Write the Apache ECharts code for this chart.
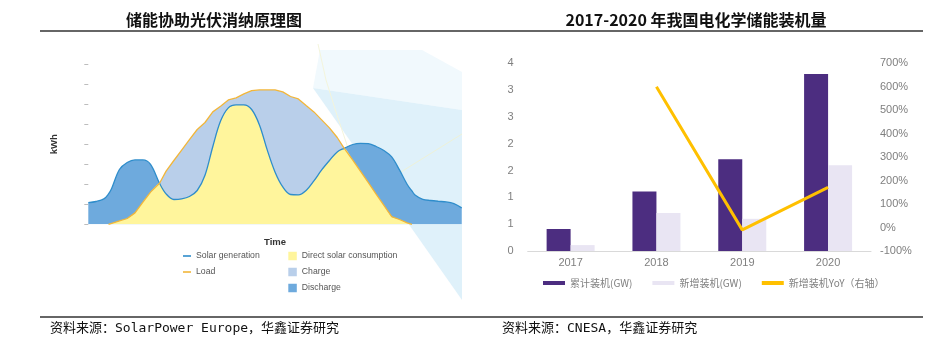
<!DOCTYPE html>
<html>
<head>
<meta charset="utf-8">
<script src="https://cdn.jsdelivr.net/npm/echarts@6/dist/echarts.min.js"></script>
<style>
html,body{margin:0;padding:0;background:#fff;}
#main{width:941px;height:343px;}
</style>
</head>
<body>
<div id="main"></div>
<script>
// ---------- Left panel: illustrative storage curves ----------
var timeGrid = [0,0.5,1,1.3,1.5,2,2.5,3,3.5,4,4.58,5,5.5,6,6.5,7,7.5,8,8.5,9,9.5,10,10.5,11,11.5,12,12.5,13,13.5,14,14.5,15,15.5,16,16.45,17,17.5,18,18.5,19,19.5,20,20.5,20.8,21,21.5,22,22.5,23,23.5,24];
var solarGen = [1.08,1.14,1.27,1.52,1.79,2.74,3.09,3.22,3.22,3.00,2.05,1.52,1.24,1.27,1.39,1.69,2.45,3.88,5.16,5.82,5.97,5.97,5.74,4.97,3.72,2.62,1.87,1.49,1.47,1.69,2.17,2.72,3.19,3.62,3.80,3.99,4.05,4.03,3.89,3.69,3.37,2.72,1.99,1.67,1.47,1.25,1.19,1.15,1.12,1.03,0.82];
var load = [null,null,null,0,0.05,0.17,0.29,0.57,1.10,1.61,2.05,2.66,3.19,3.71,4.23,4.74,5.09,5.62,5.90,6.22,6.32,6.52,6.68,6.72,6.72,6.72,6.62,6.39,6.27,5.94,5.62,5.22,4.82,4.34,3.80,3.21,2.65,2.08,1.51,0.95,0.38,0.24,0.07,0,null,null,null,null,null,null,null];

// ---------- Right panel: 2017-2020 electrochemical storage ----------
var years = ['2017','2018','2019','2020'];
var cumulativeGW = [0.41,1.11,1.71,3.30];
var newGW = [0.11,0.71,0.60,1.60];
var newYoY = [null,600,-10,171];
var leftTickLabels = ['0','1','1','2','2','3','3','4'];

var solarPairs = timeGrid.map(function(t,i){return [t, solarGen[i]];});
var loadPairs = timeGrid.map(function(t,i){return [t, load[i]];});
var directPairs = timeGrid.map(function(t,i){
  return [t, load[i]===null ? null : Math.min(load[i], solarGen[i])];
});

var C = {
  direct:'#fff59c', charge:'#b9cfea', discharge:'#6eaadd',
  solarLine:'#2f8dcb', loadLine:'#f2b63a',
  purple:'#4c2d80', lilac:'#e9e5f3', yoy:'#ffc000'
};

var chart = echarts.init(document.getElementById('main'), null, {renderer:'canvas'});
var cjk = "'Noto Sans CJK SC', sans-serif";

var option = {
  animation:false,
  backgroundColor:'#ffffff',
  grid:[
    {left:88.3, top:64.3, width:373.4, height:160},
    {left:527.7, top:63.3, width:343.3, height:187.7}
  ],
  xAxis:[
    {type:'value', gridIndex:0, min:0, max:24,
     axisLine:{show:false}, axisTick:{show:false}, axisLabel:{show:false}, splitLine:{show:false},
     name:'Time', nameLocation:'middle', nameGap:13,
     nameTextStyle:{fontSize:9.5, color:'#333', fontFamily:'Liberation Sans', fontWeight:'bold'}},
    {type:'category', gridIndex:1, data:years,
     axisLine:{lineStyle:{color:'#d9d9d9', width:1}}, axisTick:{show:false},
     axisLabel:{color:'#7f7f7f', fontSize:11, margin:6, fontFamily:'Liberation Sans'}}
  ],
  yAxis:[
    {type:'value', gridIndex:0, min:0, max:8, interval:1, offset:11.7,
     axisLine:{show:false}, axisTick:{show:true, length:4, lineStyle:{color:'#bdbdbd'}},
     axisLabel:{show:false}, splitLine:{show:false},
     name:'kWh', nameLocation:'middle', nameRotate:90, nameGap:17,
     nameTextStyle:{fontSize:9.5, color:'#333', fontFamily:'Liberation Sans', fontWeight:'bold'}},
    {type:'value', gridIndex:1, min:0, max:3.5, interval:0.5,
     axisLine:{show:false}, axisTick:{show:false}, splitLine:{show:false},
     axisLabel:{color:'#7f7f7f', fontSize:11, margin:14, fontFamily:'Liberation Sans',
       formatter:function(v,i){ return leftTickLabels[i]; }}},
    {type:'value', gridIndex:1, position:'right', min:-100, max:700, interval:100,
     axisLine:{show:false}, axisTick:{show:false}, splitLine:{show:false},
     axisLabel:{color:'#7f7f7f', fontSize:11, margin:9, fontFamily:'Liberation Sans', formatter:'{value}%'}}
  ],
  legend:[
    {left:183, top:250, padding:0, orient:'vertical', selectedMode:false, icon:'rect',
     itemWidth:8, itemHeight:1.6, itemGap:4,
     textStyle:{fontSize:8.7, color:'#555', fontFamily:'Liberation Sans', lineHeight:12},
     data:['Solar generation','Load']},
    {left:288.3, top:250, padding:0, orient:'vertical', selectedMode:false, icon:'rect',
     itemWidth:8.5, itemHeight:8.5, itemGap:4,
     textStyle:{fontSize:8.7, color:'#555', fontFamily:'Liberation Sans', lineHeight:12},
     data:['Direct solar consumption','Charge','Discharge']},
    {left:543, top:278, padding:0, orient:'horizontal', selectedMode:false, icon:'rect',
     itemWidth:22, itemHeight:4, itemGap:20,
     textStyle:{fontSize:10, color:'#808080', fontFamily:cjk},
     data:['累计装机(GW)','新增装机(GW)','新增装机YoY（右轴）']}
  ],
  graphic:[
    // decorative background shapes (left illustration)
    {type:'polygon', z:-10, shape:{points:[[320,50],[422,50],[462,72],[462,110],[313,88]]},
     style:{fill:'#f1f9fd'}},
    {type:'polygon', z:-10, shape:{points:[[313,88],[462,110],[462,300]]},
     style:{fill:'#dff1fa'}},
    {type:'polyline', z:-9, shape:{points:[[318,44],[326,80],[336,112],[348,148]]},
     style:{stroke:'#f4f5dc', lineWidth:1, fill:null}},
    {type:'polyline', z:-9, shape:{points:[[372,190],[462,134]]},
     style:{stroke:'#eef2d8', lineWidth:1, fill:null}},
    // titles
    {type:'text', z:10, style:{text:'储能协助光伏消纳原理图', x:214, y:20, textAlign:'center', textVerticalAlign:'middle', align:'center', verticalAlign:'middle',
      font:"bold 16px 'Noto Sans CJK SC'", fill:'#111'}},
    {type:'text', z:10, style:{text:'2017-2020 年我国电化学储能装机量', x:696, y:20, textAlign:'center', textVerticalAlign:'middle', align:'center', verticalAlign:'middle',
      font:"bold 16px 'Noto Sans CJK SC'", fill:'#111'}},
    // rules
    {type:'line', z:10, shape:{x1:40, y1:31, x2:923, y2:31}, style:{stroke:'#333', lineWidth:1.5}},
    {type:'line', z:10, shape:{x1:40, y1:317, x2:923, y2:317}, style:{stroke:'#333', lineWidth:1.5}},
    // sources
    {type:'text', z:10, style:{text:'资料来源：SolarPower Europe，华鑫证券研究', x:50, y:329, textVerticalAlign:'middle', verticalAlign:'middle',
      font:"13px 'DejaVu Sans Mono', 'Noto Sans CJK SC'", fill:'#111'}},
    {type:'text', z:10, style:{text:'资料来源：CNESA，华鑫证券研究', x:502, y:329, textVerticalAlign:'middle', verticalAlign:'middle',
      font:"13px 'DejaVu Sans Mono', 'Noto Sans CJK SC'", fill:'#111'}}
  ],
  series:[
    {name:'Charge', type:'line', xAxisIndex:0, yAxisIndex:0, data:loadPairs, z:2,
     symbol:'none', lineStyle:{width:0}, itemStyle:{color:C.charge}, areaStyle:{color:C.charge, opacity:1}},
    {name:'Discharge', type:'line', xAxisIndex:0, yAxisIndex:0, data:solarPairs, z:3, smooth:0.35,
     symbol:'none', lineStyle:{width:0}, itemStyle:{color:C.discharge}, areaStyle:{color:C.discharge, opacity:1}},
    {name:'Direct solar consumption', type:'line', xAxisIndex:0, yAxisIndex:0, data:directPairs, z:4, smooth:0.2,
     symbol:'none', lineStyle:{width:0}, itemStyle:{color:C.direct}, areaStyle:{color:C.direct, opacity:1}},
    {name:'Solar generation', type:'line', xAxisIndex:0, yAxisIndex:0, data:solarPairs, z:5, smooth:0.35,
     symbol:'none', lineStyle:{width:1.3, color:C.solarLine}, itemStyle:{color:C.solarLine}},
    {name:'Load', type:'line', xAxisIndex:0, yAxisIndex:0, data:loadPairs, z:6,
     symbol:'none', lineStyle:{width:1.3, color:C.loadLine}, itemStyle:{color:C.loadLine}},

    {name:'累计装机(GW)', type:'bar', xAxisIndex:1, yAxisIndex:1, data:cumulativeGW,
     barWidth:24, barGap:'0%', itemStyle:{color:C.purple}},
    {name:'新增装机(GW)', type:'bar', xAxisIndex:1, yAxisIndex:1, data:newGW,
     barWidth:24, barGap:'0%', itemStyle:{color:C.lilac}},
    {name:'新增装机YoY（右轴）', type:'line', xAxisIndex:1, yAxisIndex:2, data:newYoY,
     symbol:'none', lineStyle:{width:3, color:C.yoy}, itemStyle:{color:C.yoy}, z:5}
  ]
};
chart.setOption(option);
</script>
</body>
</html>
